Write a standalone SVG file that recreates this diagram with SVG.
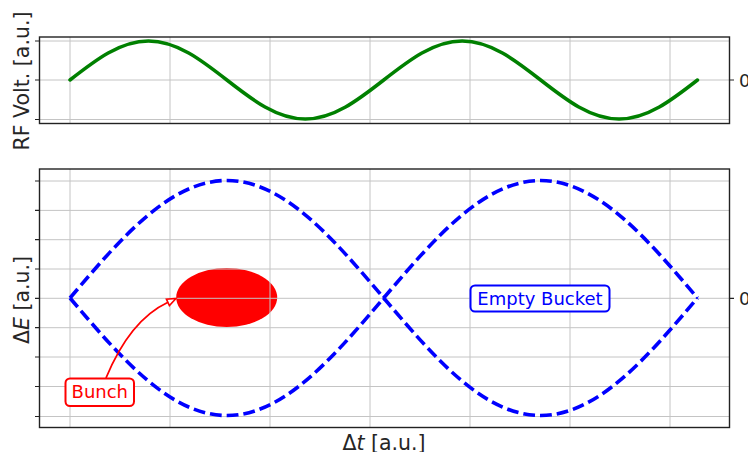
<svg xmlns="http://www.w3.org/2000/svg" width="748" height="452" viewBox="0 0 748 452">
  <style>
    .grid { stroke: #c4c4c4; stroke-width: 1; fill: none; }
    .spine { stroke: #222222; stroke-width: 1.4; fill: none; }
    .tick { stroke: #222222; stroke-width: 1.2; }
    .lbl { font-family: "DejaVu Sans", "Liberation Sans", sans-serif; font-size: 20.5px; fill: #262626; }
    .tl { font-family: "DejaVu Sans", "Liberation Sans", sans-serif; font-size: 18px; fill: #262626; }
    .ann { font-family: "DejaVu Sans", "Liberation Sans", sans-serif; font-size: 18px; text-anchor: middle; }
    .sep { stroke: #0000ff; stroke-width: 3.6; fill: none; stroke-dasharray: 11.8 5; }
  </style>
  <rect width="748" height="452" fill="#ffffff"/>

  <g id="top-axes">
    <g class="grid">
      <path d="M70,37V123.5M170,37V123.5M270,37V123.5M370,37V123.5M470,37V123.5M570,37V123.5M670,37V123.5"/>
      <path d="M39.5,41H729.5M39.5,80H729.5M39.5,119.5H729.5"/>
    </g>
    <path d="M70,80 C95.58,60.02 120.06,41 148.44,41 C176.82,41 201.30,60.02 226.88,80 C252.46,99.98 276.94,119 305.31,119 C333.69,119 358.17,99.98 383.75,80 C409.33,60.02 433.81,41 462.19,41 C490.57,41 515.05,60.02 540.63,80 C566.21,99.98 590.69,119 619.06,119 C647.44,119 671.92,99.98 697.5,80" fill="none" stroke="#008000" stroke-width="3.5" stroke-linecap="round"/>
    <rect class="spine" x="39.5" y="37" width="690" height="86.5"/>
    <path class="tick" d="M35,41H39.5M35,80H39.5M35,119.5H39.5M729.5,80H734"/>
    <text class="tl" x="739" y="86.5">0</text>
    <text class="lbl" transform="translate(28.5,81) rotate(-90)" text-anchor="middle">RF Volt. [a.u.]</text>
  </g>

  <g id="bottom-axes">
    <ellipse id="bunch-shape" cx="226.7" cy="297.5" rx="50.5" ry="29.5" fill="#ff0000"/>
    <g class="grid">
      <path d="M70,169V427.5M170,169V427.5M270,169V427.5M370,169V427.5M470,169V427.5M570,169V427.5M670,169V427.5"/>
      <path d="M39.5,181H729.5M39.5,210.4H729.5M39.5,239.7H729.5M39.5,269H729.5M39.5,298.3H729.5M39.5,327.7H729.5M39.5,357H729.5M39.5,386.5H729.5M39.5,416.5H729.5"/>
    </g>
    <path class="sep" d="M70,298 C121.16,237.81 170.10,180.5 226.88,180.5 C283.66,180.5 332.59,237.81 383.75,298 C434.91,237.81 483.85,180.5 540.63,180.5 C597.41,180.5 646.34,237.81 697.5,298"/>
    <path class="sep" d="M70,298 C121.16,358.19 170.10,415.5 226.88,415.5 C283.66,415.5 332.59,358.19 383.75,298 C434.91,358.19 483.85,415.5 540.63,415.5 C597.41,415.5 646.34,358.19 697.5,298"/>
    <rect class="spine" x="39.5" y="169" width="690" height="258.5"/>
    <path class="tick" d="M35,181H39.5M35,210.4H39.5M35,239.7H39.5M35,269H39.5M35,298.3H39.5M35,327.7H39.5M35,357H39.5M35,386.5H39.5M35,416.5H39.5M729.5,298.3H734"/>
    <text class="tl" x="739" y="304.8">0</text>
    <text class="lbl" transform="translate(28.5,300) rotate(-90)" text-anchor="middle">Δ<tspan font-style="italic">E</tspan> [a.u.]</text>
    <text class="lbl" x="384" y="449.5" text-anchor="middle">Δ<tspan font-style="italic">t</tspan> [a.u.]</text>
  </g>

  <g id="connectors">
    <path d="M106,378 Q130,320 168,302.2" fill="none" stroke="#ff0000" stroke-width="1.8"/>
    <polygon points="176,298.5 169.4,305.5 166.4,299.2" fill="#ffffff" stroke="#ff0000" stroke-width="1.6" stroke-linejoin="miter"/>
  </g>

  <g id="bunch-label">
    <rect x="65.5" y="378.5" width="68.5" height="27.5" rx="4.5" fill="#ffffff" stroke="#ff0000" stroke-width="2"/>
    <text class="ann" x="99.8" y="398.3" fill="#ff0000">Bunch</text>
  </g>

  <g id="empty-bucket">
    <rect x="470.5" y="285.5" width="139" height="26" rx="4.5" fill="#ffffff" stroke="#0000ff" stroke-width="2"/>
    <text class="ann" x="540" y="304.5" fill="#0000ff">Empty Bucket</text>
  </g>
</svg>
